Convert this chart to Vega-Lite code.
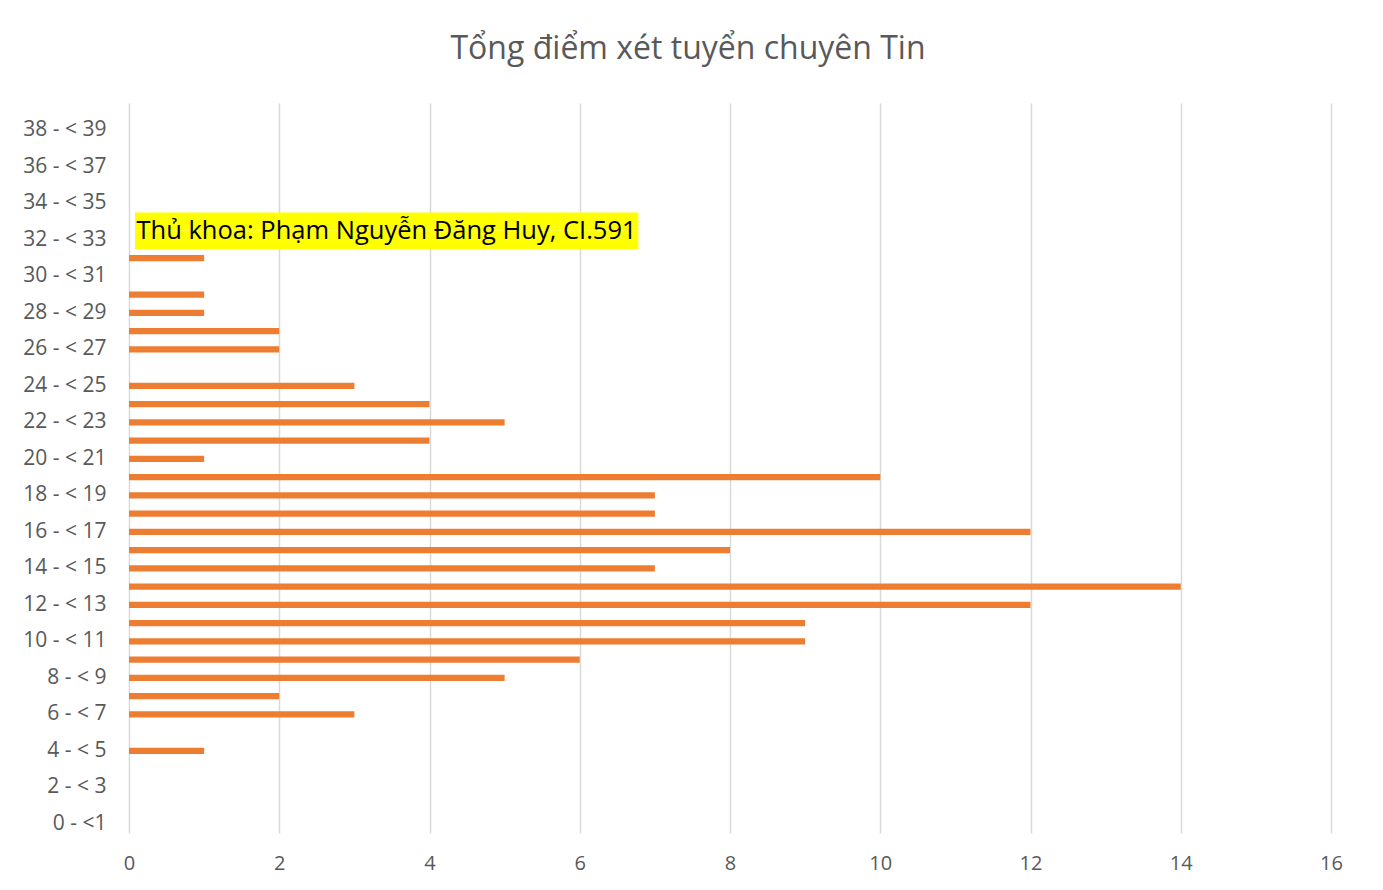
{
  "$schema": "https://vega.github.io/schema/vega-lite/v6.json",
  "width": 1202,
  "height": 730,
  "autosize": {"type": "none"},
  "padding": {"left": 129, "top": 103, "right": 52, "bottom": 57},
  "background": "white",
  "title": {
    "text": "Tổng điểm xét tuyển chuyên Tin",
    "fontSize": 32,
    "font": "Open Sans",
    "fontWeight": "normal",
    "color": "#595959",
    "anchor": "middle",
    "dx": -42,
    "offset": 37
  },
  "config": {
    "view": {"stroke": null},
    "font": "Open Sans"
  },
  "datasets": {
    "counts": [
      {"cat": "4 - < 5", "n": 1},
      {"cat": "6 - < 7", "n": 3},
      {"cat": "7 - < 8", "n": 2},
      {"cat": "8 - < 9", "n": 5},
      {"cat": "9 - < 10", "n": 6},
      {"cat": "10 - < 11", "n": 9},
      {"cat": "11 - < 12", "n": 9},
      {"cat": "12 - < 13", "n": 12},
      {"cat": "13 - < 14", "n": 14},
      {"cat": "14 - < 15", "n": 7},
      {"cat": "15 - < 16", "n": 8},
      {"cat": "16 - < 17", "n": 12},
      {"cat": "17 - < 18", "n": 7},
      {"cat": "18 - < 19", "n": 7},
      {"cat": "19 - < 20", "n": 10},
      {"cat": "20 - < 21", "n": 1},
      {"cat": "21 - < 22", "n": 4},
      {"cat": "22 - < 23", "n": 5},
      {"cat": "23 - < 24", "n": 4},
      {"cat": "24 - < 25", "n": 3},
      {"cat": "26 - < 27", "n": 2},
      {"cat": "27 - < 28", "n": 2},
      {"cat": "28 - < 29", "n": 1},
      {"cat": "29 - < 30", "n": 1},
      {"cat": "31 - < 32", "n": 1}
    ],
    "box": [
      {"cat": "32 - < 33", "x0": 0.08, "x1": 6.78},
      {"cat": "33 - < 34", "x0": 0.08, "x1": 6.78}
    ],
    "note": [
      {"cat": "32 - < 33", "x": 0.1, "label": "Thủ khoa: Phạm Nguyễn Đăng Huy, CI.591"}
    ]
  },
  "layer": [
    {
      "data": {"name": "counts"},
      "mark": {"type": "bar", "color": "#ED7D31", "height": {"band": 0.33}},
      "encoding": {
        "x": {
          "field": "n", "type": "quantitative",
          "scale": {"domain": [0, 16], "nice": false},
          "axis": {
            "title": null, "values": [0, 2, 4, 6, 8, 10, 12, 14, 16], "format": "d",
            "domain": false, "ticks": false, "grid": true, "labelFlush": false,
            "gridColor": "#d9d9d9", "gridWidth": 1.5,
            "labelFontSize": 20, "labelColor": "#595959", "labelPadding": 20
          }
        },
        "y": {
          "field": "cat", "type": "nominal",
          "scale": {
            "domain": ["39 - < 40", "38 - < 39", "37 - < 38", "36 - < 37", "35 - < 36", "34 - < 35", "33 - < 34", "32 - < 33", "31 - < 32", "30 - < 31", "29 - < 30", "28 - < 29", "27 - < 28", "26 - < 27", "25 - < 26", "24 - < 25", "23 - < 24", "22 - < 23", "21 - < 22", "20 - < 21", "19 - < 20", "18 - < 19", "17 - < 18", "16 - < 17", "15 - < 16", "14 - < 15", "13 - < 14", "12 - < 13", "11 - < 12", "10 - < 11", "9 - < 10", "8 - < 9", "7 - < 8", "6 - < 7", "5 - < 6", "4 - < 5", "3 - < 4", "2 - < 3", "1 - < 2", "0 - <1"],
            "paddingInner": 0, "paddingOuter": 0
          },
          "axis": {
            "title": null,
            "values": ["38 - < 39", "36 - < 37", "34 - < 35", "32 - < 33", "30 - < 31", "28 - < 29", "26 - < 27", "24 - < 25", "22 - < 23", "20 - < 21", "18 - < 19", "16 - < 17", "14 - < 15", "12 - < 13", "10 - < 11", "8 - < 9", "6 - < 7", "4 - < 5", "2 - < 3", "0 - <1"],
            "domain": false, "ticks": false, "grid": false,
            "labelFontSize": 21, "labelColor": "#595959", "labelPadding": 23
          }
        }
      }
    },
    {
      "data": {"name": "box"},
      "mark": {"type": "bar", "color": "#FFFF00", "height": {"band": 1}},
      "encoding": {
        "x": {"field": "x0", "type": "quantitative"},
        "x2": {"field": "x1"},
        "y": {"field": "cat", "type": "nominal"}
      }
    },
    {
      "data": {"name": "note"},
      "mark": {"type": "text", "align": "left", "baseline": "middle", "fontSize": 25.5, "color": "#000000", "font": "Open Sans"},
      "encoding": {
        "x": {"field": "x", "type": "quantitative"},
        "y": {"field": "cat", "type": "nominal", "bandPosition": 0},
        "text": {"field": "label"}
      }
    }
  ]
}
